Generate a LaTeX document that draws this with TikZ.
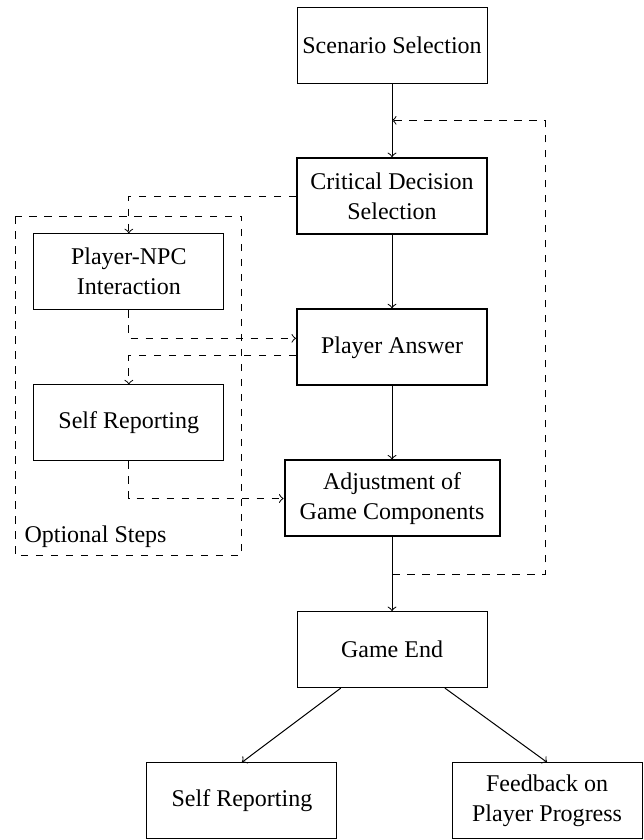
\documentclass[tikz,border=0pt]{standalone}
\usepackage{fontspec}
\setmainfont{Liberation Serif}
\usetikzlibrary{positioning,calc}

\tikzset{
  stepbox/.style={draw, align=center, minimum width=76pt, minimum height=30.4pt, inner xsep=2pt, line width=0.4pt},
  keybox/.style={stepbox, line width=0.8pt},
}

\begin{document}
\begin{tikzpicture}[font=\fontsize{9.6}{12}\selectfont, >=to]
            \def\dy{2.125} % Define the distance between steps
            \def\lx{-3.70} % column of the optional steps
            \useasboundingbox (-5.511,0.633) rectangle (3.529,-11.176);

            \node[stepbox] (scenario) at (0,0) {Scenario Selection};
            \node[keybox] (decision) at (0,-\dy) {Critical Decision\\Selection};
            \node[keybox] (answer) at (0,-2*\dy) {Player Answer};
            \node[keybox, minimum width=86pt] (adjust) at (0,-3*\dy) {Adjustment of\\Game Components};
            \node[stepbox] (end) at (0,-4*\dy) {Game End};
            \node[stepbox] (report) at (-2.11,-5*\dy) {Self Reporting};
            \node[stepbox] (feedback) at (2.18,-5*\dy) {Feedback on\\Player Progress};

            \node[stepbox] (npc) at (\lx,-1.5*\dy) {Player-NPC\\Interaction};
            \node[stepbox] (selfreport) at (\lx,-2.5*\dy) {Self Reporting};

            \coordinate (optnw) at (-5.300,-2.404);
            \coordinate (optse) at (-2.109,-7.170);
            \draw[dashed] (optnw) rectangle (optse);
            \node[anchor=base west, inner sep=0pt] (optlabel) at ($(optnw |- optse)+(0.127,0.183)$) {Optional Steps};

            \draw[->] (scenario) -- (decision);
            \draw[->] (decision) -- (answer);
            \draw[->] (answer) -- (adjust);
            \draw[->] (adjust) -- (end);
            \draw[->] (end) -- (report.north);
            \draw[->] (end) -- (feedback.north);

            \draw[dashed,->] (decision.west) -| (npc.north);
            \draw[dashed,->] (npc.south) |- ([yshift=3.6pt]answer.west);
            \draw[dashed,->] ([yshift=-3.2pt]answer.west) -| (selfreport.north);
            \draw[dashed,->] (selfreport.south) |- (adjust.west);

            \coordinate (loopout) at ($(adjust.south)!0.5!(end.north)$);
            \coordinate (loopin) at ($(scenario.south)!0.5!(decision.north)$);
            \draw[dashed,->] (loopout) -- ++(2.151,0) |- (loopin);
        \end{tikzpicture}
\end{document}
